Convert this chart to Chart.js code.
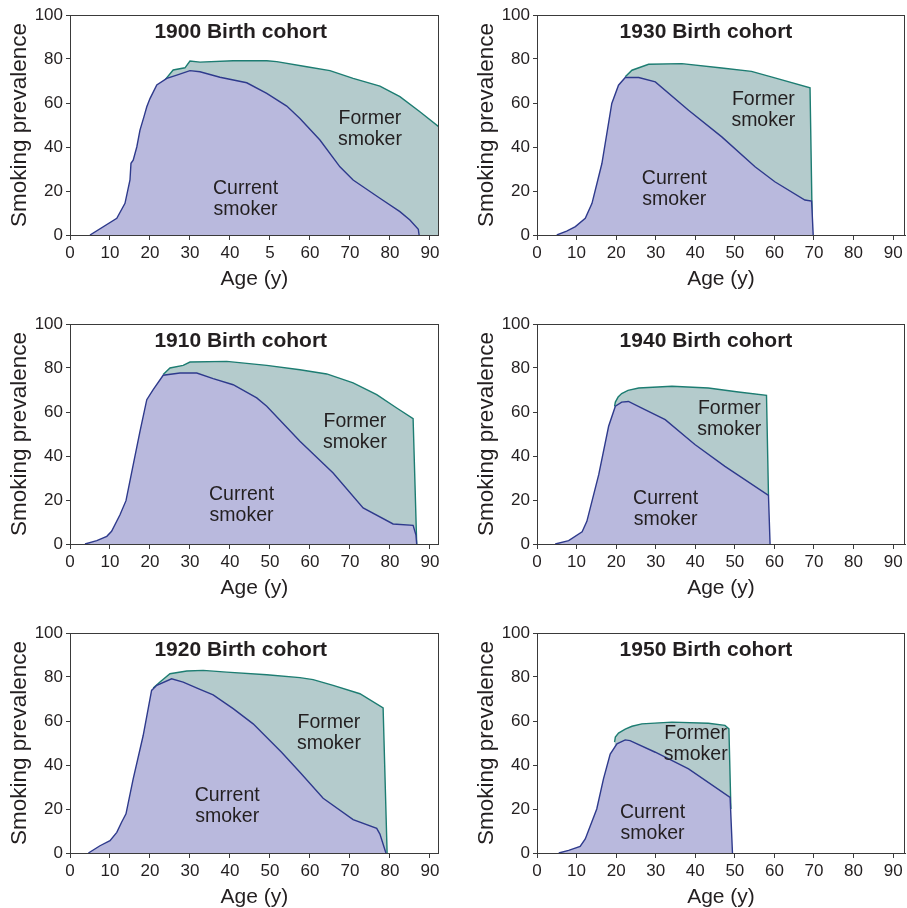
<!DOCTYPE html>
<html lang="en">
<head>
<meta charset="utf-8">
<title>Smoking prevalence by birth cohort</title>
<script src="https://cdn.jsdelivr.net/npm/chart.js@4.4.1/dist/chart.umd.min.js"></script>
<style>
    html, body { margin: 0; padding: 0; background: #fff; }
    body { width: 907px; height: 908px; position: relative; overflow: hidden; }
    canvas { position: absolute; }
</style>
</head>
<body>
<canvas id="c1900" width="450" height="300" style="left:0;top:0"></canvas>
<canvas id="c1930" width="440" height="300" style="left:467px;top:0"></canvas>
<canvas id="c1910" width="450" height="300" style="left:0;top:309px"></canvas>
<canvas id="c1940" width="440" height="300" style="left:467px;top:309px"></canvas>
<canvas id="c1920" width="450" height="300" style="left:0;top:618px"></canvas>
<canvas id="c1950" width="440" height="300" style="left:467px;top:618px"></canvas>
<script>
// Datos (edad en anos, prevalencia en %)
const ticksEdad = [0, 10, 20, 30, 40, 50, 60, 70, 80, 90];
const etiquetasEdad = ['0', '10', '20', '30', '40', '50', '60', '70', '80', '90'];
const etiquetasEdad1900 = ['0', '10', '20', '30', '40', '5', '60', '70', '80', '90'];
const ticksPrevalencia = [0, 20, 40, 60, 80, 100];

// Cohorte 1900
const edades1900Actual = [5, 11.7, 13.75, 15, 15.25, 15.8, 16.7, 17.5, 18.5, 19.2, 20, 21.7, 24.2, 26.7, 30, 32.5, 37.5, 44.2, 49.2, 54.2, 57.5, 62.5, 67.5, 70.8, 77.5, 82.5, 85, 87.1, 87.3];
const fumadores1900Actual = [0, 7.6, 14.4, 25, 32.6, 34, 40, 47.7, 53.8, 58.3, 62, 68.2, 71.2, 72.7, 74.7, 74.2, 71.7, 69.2, 64.4, 58.6, 53, 43.2, 31, 25, 16.7, 10.6, 6.8, 2.6, 0];
const edades1900Total = [23.75, 25.8, 28.75, 30, 32.5, 40.8, 49.2, 51.7, 59.2, 65, 70.8, 77.5, 82.5, 87.5, 92.2, 92.2];
const fumadores1900Total = [70.5, 75, 76, 79.1, 78.6, 79.2, 79.2, 78.8, 76.5, 74.7, 71.2, 67.7, 62.9, 56, 49.2, 0];

// Cohorte 1910
const edades1910Actual = [3.75, 6.7, 9.2, 10.4, 12.5, 14, 15.8, 17.5, 19.2, 20.8, 23.3, 27.5, 31.7, 35.8, 40.8, 46.7, 49.2, 57.5, 65.8, 73.3, 80.8, 85.8, 86.5, 86.7];
const fumadores1910Actual = [0, 1.5, 3.5, 5.8, 13.3, 19.7, 36, 51.2, 65.6, 70.2, 76.7, 77.7, 77.7, 75.2, 72.4, 66.4, 62.6, 46.7, 32.3, 16.4, 9.1, 8.5, 4.2, 0];
const edades1910Total = [23.3, 25, 28.3, 30, 39.2, 49.2, 57.5, 64.2, 70.8, 76.7, 81.7, 85.8, 86.7];
const fumadores1910Total = [77, 80, 81.2, 82.7, 83, 81.2, 79.2, 77.3, 73.2, 67.9, 61.8, 57, 0];

// Cohorte 1920
const edades1920Actual = [4.6, 7.5, 10, 11.7, 12.9, 14, 15.8, 18.3, 20.4, 21.7, 25.4, 28.3, 32.5, 35.8, 40.8, 45.8, 52.9, 57.5, 63.3, 70.8, 76.7, 77.5, 79];
const fumadores1920Actual = [0, 3.3, 5.6, 9.4, 14, 17.8, 33.7, 53.4, 73.9, 76.2, 79.2, 77.7, 74.4, 71.9, 65.6, 58.7, 45.8, 36.7, 24.9, 15.2, 11.2, 8.6, 0];
const edades1920Total = [20.8, 22.5, 25, 29.2, 33.3, 39.2, 49.2, 57.5, 60.8, 65.8, 72.5, 78.3, 79.3];
const fumadores1920Total = [75, 77.7, 81.5, 82.7, 83, 82.2, 81, 79.7, 78.8, 76.2, 72.4, 65.9, 0];

// Cohorte 1930
const edades1930Actual = [5, 7.5, 9.7, 12.2, 13.9, 16.4, 18.9, 20.6, 22.3, 25.7, 29.9, 38.3, 46.7, 55.1, 60.1, 67.7, 69.4, 69.8];
const fumadores1930Actual = [0, 1.8, 3.8, 7.6, 14.4, 32.5, 59.8, 68.1, 71.6, 71.6, 69.6, 56.7, 44.6, 31, 24.2, 15.9, 15.4, 0];
const edades1930Total = [22.3, 24, 28.2, 36.6, 46.7, 54.2, 60.1, 69, 69.6];
const fumadores1930Total = [71.9, 74.9, 77.6, 77.9, 75.9, 74.4, 71.4, 66.9, 0];

// Cohorte 1940
const edades1940Actual = [4.6, 8, 11.4, 12.6, 15.6, 18.1, 19.8, 21.4, 23.1, 26.5, 32.4, 39.9, 47.5, 58.5, 58.9];
const fumadores1940Actual = [0, 1.5, 5.5, 10.3, 31.5, 53.5, 62.6, 64.5, 64.8, 61.8, 56.5, 45.2, 35.3, 22.1, 0];
const edades1940Total = [19.6, 19.8, 20.5, 21.4, 23, 25.7, 34.1, 43.3, 50.9, 58, 58.5];
const fumadores1940Total = [62.6, 64.5, 66.8, 68.4, 69.8, 70.9, 71.7, 70.9, 69.1, 67.6, 22.1];

// Cohorte 1950
const edades1950Actual = [5.5, 8, 10.9, 12.2, 15.1, 16.8, 18.5, 20.2, 22.3, 23.5, 29.9, 38.3, 48.8, 49.4];
const fumadores1950Actual = [0, 1.2, 3, 6.4, 20, 33.7, 45, 49.6, 51.4, 51.1, 45.8, 38.2, 25.3, 0];
const edades1950Total = [19.6, 19.8, 20.6, 22.3, 24, 26.5, 34.1, 43.3, 47.5, 48.5, 49];
const fumadores1950Total = [50.4, 52.7, 54.5, 56.3, 57.6, 58.7, 59.5, 59, 58, 56.4, 20];

const fuente = '"Liberation Sans", Arial, Helvetica, sans-serif';
const colorTexto = '#231f20';
const colorEje = '#3a3a3a';

// Marco, titulo y rotulos dentro del area
const textosPanel = {
    id: 'textosPanel',
    afterDatasetsDraw(chart, args, opts) {
        const { ctx, chartArea, scales: { x, y } } = chart;
        ctx.save();
        ctx.strokeStyle = colorEje;
        ctx.lineWidth = 1;
        ctx.strokeRect(Math.round(chartArea.left) + 0.5, Math.round(chartArea.top) + 0.5,
            Math.round(chartArea.width) - 1, Math.round(chartArea.height));

        ctx.fillStyle = colorTexto;
        ctx.textAlign = 'center';
        ctx.textBaseline = 'middle';
        ctx.font = 'bold 21px ' + fuente;
        ctx.fillText(opts.titulo, x.getPixelForValue(42.7), chartArea.top + 17);

        ctx.font = '19.5px ' + fuente;
        opts.rotulos.forEach(r => {
            const px = x.getPixelForValue(r.pos[0]);
            const py = y.getPixelForValue(r.pos[1]);
            ctx.fillText(r.lineas[0], px, py - 10.5);
            ctx.fillText(r.lineas[1], px, py + 10.5);
        });
        ctx.restore();
    }
};

function crearPanel(canvasId, titulo, actualX, actualY, totalX, totalY, etiquetas, rotulos, xMax, padRight) {
    const puntos = (xs, ys) => xs.map((v, i) => ({ x: v, y: ys[i] }));

    return new Chart(document.getElementById(canvasId), {
        type: 'line',
        data: {
            datasets: [
                {
                    label: 'Current smoker',
                    data: puntos(actualX, actualY),
                    borderColor: '#2e3a8c',
                    backgroundColor: '#b9b9dd',
                    borderWidth: 1.4,
                    fill: 'origin',
                    order: 1
                },
                {
                    label: 'Former smoker',
                    data: puntos(totalX, totalY),
                    borderColor: '#1d7d72',
                    backgroundColor: '#b4cbcc',
                    borderWidth: 1.4,
                    fill: 'origin',
                    order: 2
                }
            ]
        },
        options: {
            responsive: false,
            animation: false,
            devicePixelRatio: 1,
            layout: { padding: { top: 15, right: padRight, left: 0, bottom: 0 } },
            elements: { point: { radius: 0 }, line: { tension: 0 } },
            plugins: {
                legend: { display: false },
                tooltip: { enabled: false },
                textosPanel: { titulo: titulo, rotulos: rotulos }
            },
            scales: {
                x: {
                    type: 'linear',
                    min: 0,
                    max: xMax,
                    afterBuildTicks: s => { s.ticks = ticksEdad.map(v => ({ value: v })); },
                    afterFit: s => { s.height = 65; },
                    ticks: {
                        callback: v => etiquetas[ticksEdad.indexOf(v)],
                        font: { family: fuente, size: 17 },
                        color: colorTexto,
                        padding: 3,
                        maxRotation: 0,
                        autoSkip: false
                    },
                    grid: { drawOnChartArea: false, tickLength: 5, color: colorEje },
                    border: { display: true, color: colorEje, width: 1 },
                    title: {
                        display: true,
                        text: 'Age (y)',
                        font: { family: fuente, size: 21 },
                        color: colorTexto,
                        padding: { top: 0, bottom: 8 }
                    }
                },
                y: {
                    min: 0,
                    max: 100,
                    afterBuildTicks: s => { s.ticks = ticksPrevalencia.map(v => ({ value: v })); },
                    afterFit: s => { s.width = 70; },
                    ticks: {
                        font: { family: fuente, size: 17 },
                        color: colorTexto,
                        padding: 3
                    },
                    grid: { drawOnChartArea: false, tickLength: 4, color: colorEje },
                    border: { display: true, color: colorEje, width: 1 },
                    title: {
                        display: true,
                        text: 'Smoking prevalence',
                        font: { family: fuente, size: 22.5 },
                        color: colorTexto,
                        padding: { top: 6, bottom: 0 }
                    }
                }
            }
        },
        plugins: [textosPanel]
    });
}

const actual = ['Current', 'smoker'];
const anterior = ['Former', 'smoker'];

crearPanel('c1900', '1900 Birth cohort', edades1900Actual, fumadores1900Actual, edades1900Total, fumadores1900Total,
    etiquetasEdad1900, [{ lineas: actual, pos: [43.9, 16.3] }, { lineas: anterior, pos: [75, 48] }], 92.2, 11.3);
crearPanel('c1910', '1910 Birth cohort', edades1910Actual, fumadores1910Actual, edades1910Total, fumadores1910Total,
    etiquetasEdad, [{ lineas: actual, pos: [42.9, 17.85] }, { lineas: anterior, pos: [71.25, 50.85] }], 92.2, 11.3);
crearPanel('c1920', '1920 Birth cohort', edades1920Actual, fumadores1920Actual, edades1920Total, fumadores1920Total,
    etiquetasEdad, [{ lineas: actual, pos: [39.3, 21.45] }, { lineas: anterior, pos: [64.75, 54.7] }], 92.2, 11.3);
crearPanel('c1930', '1930 Birth cohort', edades1930Actual, fumadores1930Actual, edades1930Total, fumadores1930Total,
    etiquetasEdad, [{ lineas: actual, pos: [34.7, 21] }, { lineas: anterior, pos: [57.2, 56.75] }], 93, 2);
crearPanel('c1940', '1940 Birth cohort', edades1940Actual, fumadores1940Actual, edades1940Total, fumadores1940Total,
    etiquetasEdad, [{ lineas: actual, pos: [32.5, 15.85] }, { lineas: anterior, pos: [48.6, 56.55] }], 93, 2);
crearPanel('c1950', '1950 Birth cohort', edades1950Actual, fumadores1950Actual, edades1950Total, fumadores1950Total,
    etiquetasEdad, [{ lineas: actual, pos: [29.2, 13.8] }, { lineas: anterior, pos: [40.1, 49.4] }], 93, 2);
</script>
</body>
</html>
